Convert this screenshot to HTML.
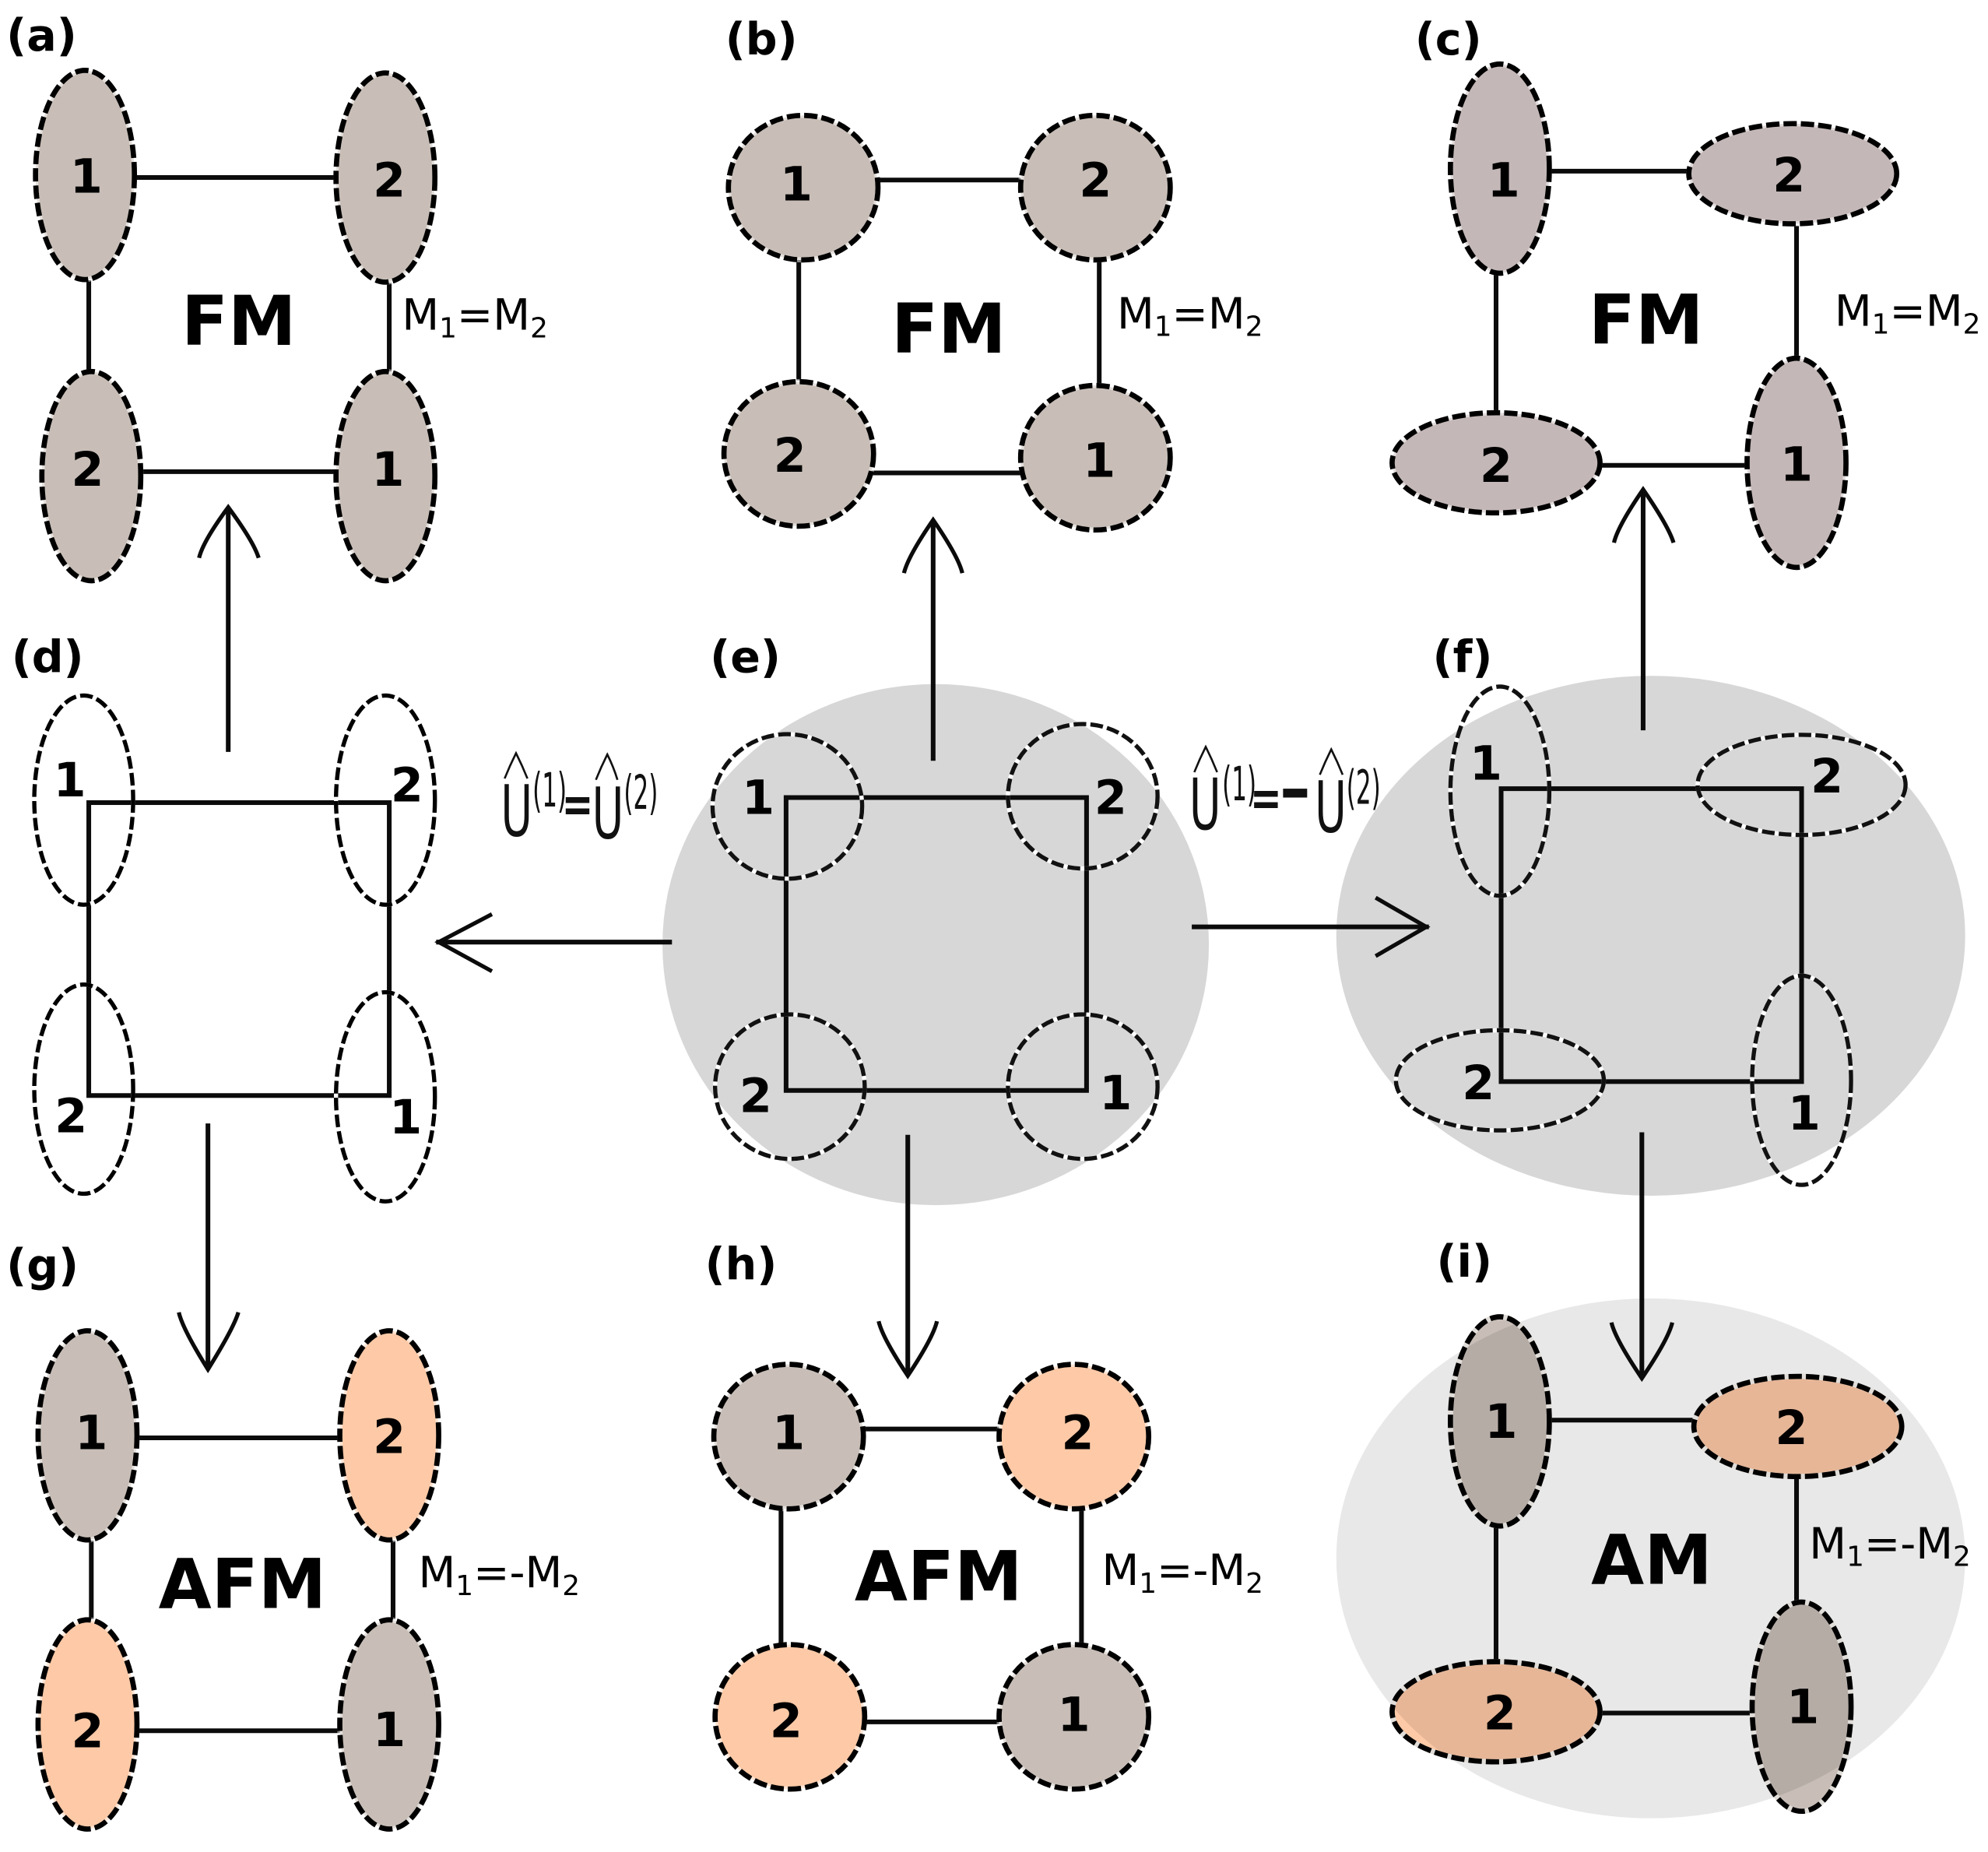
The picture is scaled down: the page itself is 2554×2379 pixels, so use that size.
<!DOCTYPE html>
<html><head><meta charset="utf-8"><style>
html,body{margin:0;padding:0;background:#fff}
svg{display:block}
text{font-family:"DejaVu Sans","Liberation Sans",sans-serif;fill:#000}
.n{font-weight:bold;font-size:37px;text-anchor:middle}
.p{font-weight:bold;font-size:35px}
.b{font-weight:bold;font-size:54px}
.m{font-size:34px}
.s{font-size:22px}
.u{font-size:56px;fill:#111}
.q{font-size:37px;fill:#111}
.e{font-weight:bold;font-size:40px;fill:#111}
.l line,.l rect{stroke:#0b0b0b;stroke-width:3.7;fill:none}
.a{stroke:#0b0b0b;stroke-width:3.7;fill:none}
.h{stroke:#0b0b0b;stroke-width:3.2;fill:none}
.c{stroke:#111;stroke-width:1.6;fill:none}
</style></head><body>
<svg width="2554" height="2379" viewBox="0 0 1568 1460.6" xmlns="http://www.w3.org/2000/svg">
<defs>
<g id="ga"><ellipse cx="67" cy="138" rx="39" ry="82.5"/><ellipse cx="304" cy="140" rx="39" ry="82.5"/><ellipse cx="72" cy="375.5" rx="39" ry="82.5"/><ellipse cx="304" cy="375.5" rx="39" ry="82.5"/></g>
<g id="gb"><ellipse cx="633.5" cy="148" rx="59" ry="57"/><ellipse cx="864" cy="148" rx="59" ry="57"/><ellipse cx="630" cy="358" rx="59" ry="57"/><ellipse cx="864" cy="361" rx="59" ry="57"/></g>
<g id="gc"><ellipse cx="1183" cy="133" rx="39" ry="82.5"/><ellipse cx="1414" cy="137" rx="82" ry="39.5"/><ellipse cx="1180" cy="365" rx="82" ry="39.5"/><ellipse cx="1417" cy="365" rx="39" ry="82.5"/></g>
<g id="gd"><ellipse cx="66" cy="631" rx="39" ry="82.5"/><ellipse cx="304" cy="631" rx="39" ry="82.5"/><ellipse cx="66" cy="859" rx="39" ry="82.5"/><ellipse cx="304" cy="865" rx="39" ry="82.5"/></g>
<g id="ge"><ellipse cx="621" cy="636" rx="59" ry="57"/><ellipse cx="854" cy="628" rx="59" ry="57"/><ellipse cx="623" cy="857" rx="59" ry="57"/><ellipse cx="854" cy="857" rx="59" ry="57"/></g>
<g id="gf"><ellipse cx="1183" cy="624" rx="39" ry="82.5"/><ellipse cx="1421" cy="619" rx="82" ry="39.5"/><ellipse cx="1183" cy="852" rx="82" ry="39.5"/><ellipse cx="1421" cy="852" rx="39" ry="82.5"/></g>
<g id="gg1"><ellipse cx="69" cy="1132" rx="39" ry="82.5"/><ellipse cx="307" cy="1360" rx="39" ry="82.5"/></g>
<g id="gg2"><ellipse cx="307" cy="1132" rx="39" ry="82.5"/><ellipse cx="69" cy="1360" rx="39" ry="82.5"/></g>
<g id="gh1"><ellipse cx="622" cy="1133" rx="59" ry="57"/><ellipse cx="847" cy="1354" rx="59" ry="57"/></g>
<g id="gh2"><ellipse cx="847" cy="1133" rx="59" ry="57"/><ellipse cx="623" cy="1354" rx="59" ry="57"/></g>
<g id="gi1"><ellipse cx="1183" cy="1121" rx="39" ry="82.5"/><ellipse cx="1421" cy="1346" rx="39" ry="82.5"/></g>
<g id="gi2"><ellipse cx="1418" cy="1125" rx="82" ry="39.5"/><ellipse cx="1180" cy="1350" rx="82" ry="39.5"/></g>
</defs>

<ellipse cx="738" cy="745" rx="215.5" ry="205.5" fill="#d7d7d7"/>
<ellipse cx="1302" cy="738" rx="248" ry="205" fill="#d7d7d7"/>

<g class="l">
<line x1="107" y1="140" x2="265" y2="140"/><line x1="113" y1="372" x2="265" y2="372"/><line x1="70" y1="221" x2="70" y2="292"/><line x1="307" y1="223" x2="307" y2="293"/>
<line x1="693" y1="142" x2="805" y2="142"/><line x1="687" y1="373" x2="805" y2="373"/><line x1="630" y1="205" x2="630" y2="300"/><line x1="867" y1="205" x2="867" y2="303"/>
<line x1="1223" y1="135" x2="1332" y2="135"/><line x1="1263" y1="367" x2="1378" y2="367"/><line x1="1180" y1="216" x2="1180" y2="325"/><line x1="1417" y1="178" x2="1417" y2="282"/>
<rect x="70" y="633" width="237" height="231"/>
<rect x="620" y="629" width="237" height="231"/>
<rect x="1184" y="622" width="237" height="231"/>
<line x1="108" y1="1134" x2="268" y2="1134"/><line x1="108" y1="1365" x2="268" y2="1365"/><line x1="72" y1="1215" x2="72" y2="1277"/><line x1="310" y1="1215" x2="310" y2="1277"/>
<line x1="682" y1="1127" x2="788" y2="1127"/><line x1="682" y1="1358" x2="788" y2="1358"/><line x1="616" y1="1188" x2="616" y2="1297"/><line x1="853" y1="1188" x2="853" y2="1297"/>
</g>

<use href="#ga" fill="#c8beb7" stroke="#fff" stroke-opacity=".5" stroke-width="4.1"/><use href="#ga" fill="none" stroke="#000" stroke-width="4.1" stroke-dasharray="10.5 3.2"/>
<use href="#gb" fill="#c8beb7" stroke="#fff" stroke-opacity=".5" stroke-width="4.1"/><use href="#gb" fill="none" stroke="#000" stroke-width="4.1" stroke-dasharray="10.5 3.2"/>
<use href="#gc" fill="#c4b7b7" stroke="#fff" stroke-opacity=".5" stroke-width="4.1"/><use href="#gc" fill="none" stroke="#000" stroke-width="4.1" stroke-dasharray="10.5 3.2"/>
<use href="#gd" fill="none" stroke="#fff" stroke-width="3.3"/><use href="#gd" fill="none" stroke="#000" stroke-width="3.3" stroke-dasharray="10 3.3"/>
<use href="#ge" fill="none" stroke="#fff" stroke-width="3.3"/><use href="#ge" fill="none" stroke="#111" stroke-width="3.3" stroke-dasharray="10 3.3"/>
<use href="#gf" fill="none" stroke="#fff" stroke-width="3.3"/><use href="#gf" fill="none" stroke="#111" stroke-width="3.3" stroke-dasharray="10 3.3"/>
<use href="#gg1" fill="#c8beb7" stroke="#fff" stroke-opacity=".5" stroke-width="4.1"/><use href="#gg1" fill="none" stroke="#000" stroke-width="4.1" stroke-dasharray="10.5 3.2"/>
<use href="#gg2" fill="#fdc9a6" stroke="#fff" stroke-opacity=".5" stroke-width="4.1"/><use href="#gg2" fill="none" stroke="#000" stroke-width="4.1" stroke-dasharray="10.5 3.2"/>
<use href="#gh1" fill="#c8beb7" stroke="#fff" stroke-opacity=".5" stroke-width="4.1"/><use href="#gh1" fill="none" stroke="#000" stroke-width="4.1" stroke-dasharray="10.5 3.2"/>
<use href="#gh2" fill="#fdc9a6" stroke="#fff" stroke-opacity=".5" stroke-width="4.1"/><use href="#gh2" fill="none" stroke="#000" stroke-width="4.1" stroke-dasharray="10.5 3.2"/>

<use href="#gi1" fill="#c8beb7"/>
<use href="#gi2" fill="#fdc9a6"/>
<ellipse cx="1302" cy="1229" rx="248" ry="205" fill="#000" fill-opacity="0.09"/>
<g class="l">
<line x1="1222" y1="1120" x2="1337" y2="1120"/><line x1="1262" y1="1351" x2="1383" y2="1351"/><line x1="1180" y1="1205" x2="1180" y2="1310"/><line x1="1417" y1="1165" x2="1417" y2="1263"/>
</g>
<use href="#gi1" fill="none" stroke="#e0dcd8" stroke-width="4.1"/><use href="#gi1" fill="none" stroke="#000" stroke-width="4.1" stroke-dasharray="10.5 3.2"/>
<use href="#gi2" fill="none" stroke="#e0dcd8" stroke-width="4.1"/><use href="#gi2" fill="none" stroke="#000" stroke-width="4.1" stroke-dasharray="10.5 3.2"/>

<line class="a" x1="180" y1="593" x2="180" y2="400"/><path class="h" d="M157,440 Q160,427 180,400 Q200,427 204,440"/>
<line class="a" x1="736" y1="600" x2="736" y2="410"/><path class="h" d="M713,452 Q716,439 736,410 Q756,439 759,452"/>
<line class="a" x1="1296" y1="576" x2="1296" y2="386"/><path class="h" d="M1273,428 Q1276,415 1296,386 Q1316,415 1320,428"/>
<line class="a" x1="530" y1="743" x2="344" y2="743"/><path class="h" d="M388,721 L346,743 L388,766"/>
<line class="a" x1="940" y1="731" x2="1127" y2="731"/><path class="h" d="M1085,708 L1125,731 L1085,754"/>
<line class="a" x1="164" y1="886" x2="164" y2="1080"/><path class="h" d="M141,1035 Q144,1048 164,1080 Q184,1048 188,1035"/>
<line class="a" x1="716" y1="895" x2="716" y2="1085"/><path class="h" d="M693,1042 Q696,1055 716,1085 Q736,1055 739,1042"/>
<line class="a" x1="1295" y1="893" x2="1295" y2="1087"/><path class="h" d="M1271,1043 Q1274,1056 1295,1087 Q1316,1056 1319,1043"/>

<text class="n" x="68" y="152">1</text><text class="n" x="307" y="155">2</text><text class="n" x="69" y="383">2</text><text class="n" x="306" y="383">1</text>
<text class="n" x="628" y="158">1</text><text class="n" x="864" y="155">2</text><text class="n" x="623" y="372">2</text><text class="n" x="867" y="376">1</text>
<text class="n" x="1186" y="155">1</text><text class="n" x="1411" y="151">2</text><text class="n" x="1180" y="380">2</text><text class="n" x="1417" y="379">1</text>
<text class="n" x="55" y="628">1</text><text class="n" x="321" y="632">2</text><text class="n" x="56" y="893">2</text><text class="n" x="320" y="894">1</text>
<text class="n" x="598" y="642">1</text><text class="n" x="876" y="642">2</text><text class="n" x="596" y="877">2</text><text class="n" x="880" y="875">1</text>
<text class="n" x="1172" y="615">1</text><text class="n" x="1441" y="625">2</text><text class="n" x="1166" y="867">2</text><text class="n" x="1423" y="891">1</text>
<text class="n" x="72" y="1143">1</text><text class="n" x="307" y="1146">2</text><text class="n" x="69" y="1378">2</text><text class="n" x="307" y="1377">1</text>
<text class="n" x="622" y="1143">1</text><text class="n" x="850" y="1143">2</text><text class="n" x="620" y="1370">2</text><text class="n" x="847" y="1365">1</text>
<text class="n" x="1184" y="1134">1</text><text class="n" x="1413" y="1139">2</text><text class="n" x="1183" y="1364">2</text><text class="n" x="1422" y="1359">1</text>

<text class="p" x="5" y="40">(a)</text><text class="p" x="572" y="43">(b)</text><text class="p" x="1116" y="43">(c)</text>
<text class="p" x="9" y="530">(d)</text><text class="p" x="560" y="530">(e)</text><text class="p" x="1130" y="530">(f)</text>
<text class="p" x="5" y="1010">(g)</text><text class="p" x="556" y="1009">(h)</text><text class="p" x="1133" y="1007">(i)</text>

<text class="b" x="143" y="272">FM</text>
<text class="b" x="703" y="278">FM</text>
<text class="b" x="1253" y="271">FM</text>
<text class="b" x="125" y="1268">AFM</text>
<text class="b" x="674" y="1262">AFM</text>
<text class="b" x="1255" y="1249">AM</text>

<text class="m" x="317" y="260">M<tspan class="s" dy="6">1</tspan><tspan dy="-6">=M</tspan><tspan class="s" dy="6">2</tspan></text>
<text class="m" x="881" y="259">M<tspan class="s" dy="6">1</tspan><tspan dy="-6">=M</tspan><tspan class="s" dy="6">2</tspan></text>
<text class="m" x="1447" y="257">M<tspan class="s" dy="6">1</tspan><tspan dy="-6">=M</tspan><tspan class="s" dy="6">2</tspan></text>
<text class="m" x="330" y="1252">M<tspan class="s" dy="6">1</tspan><tspan dy="-6">=-M</tspan><tspan class="s" dy="6">2</tspan></text>
<text class="m" x="869" y="1250">M<tspan class="s" dy="6">1</tspan><tspan dy="-6">=-M</tspan><tspan class="s" dy="6">2</tspan></text>
<text class="m" x="1427" y="1229">M<tspan class="s" dy="6">1</tspan><tspan dy="-6">=-M</tspan><tspan class="s" dy="6">2</tspan></text>

<text class="u" x="395" y="659" textLength="25" lengthAdjust="spacingAndGlyphs">U</text>
<path class="c" d="M398,614 Q402,604 407,594 Q412,604 416,614"/>
<text class="q" x="420" y="636" textLength="27" lengthAdjust="spacingAndGlyphs">(1)</text>
<text class="e" x="443" y="648" textLength="25" lengthAdjust="spacingAndGlyphs">=</text>
<text class="u" x="467" y="661" textLength="25" lengthAdjust="spacingAndGlyphs">U</text>
<path class="c" d="M470,615 Q474,605 479,595 Q484,605 487,615"/>
<text class="q" x="492" y="638" textLength="27" lengthAdjust="spacingAndGlyphs">(2)</text>

<text class="u" x="938" y="654" textLength="25" lengthAdjust="spacingAndGlyphs">U</text>
<path class="c" d="M942,609 Q946,599 951,589 Q956,599 960,609"/>
<text class="q" x="964" y="631" textLength="27" lengthAdjust="spacingAndGlyphs">(1)</text>
<text class="e" x="986" y="643" textLength="25" lengthAdjust="spacingAndGlyphs">=</text>
<rect x="1012" y="622" width="19" height="7" fill="#111"/>
<text class="u" x="1037" y="656" textLength="25" lengthAdjust="spacingAndGlyphs">U</text>
<path class="c" d="M1041,611 Q1045,601 1050,591 Q1055,601 1059,611"/>
<text class="q" x="1062" y="634" textLength="27" lengthAdjust="spacingAndGlyphs">(2)</text>
</svg>
</body></html>
